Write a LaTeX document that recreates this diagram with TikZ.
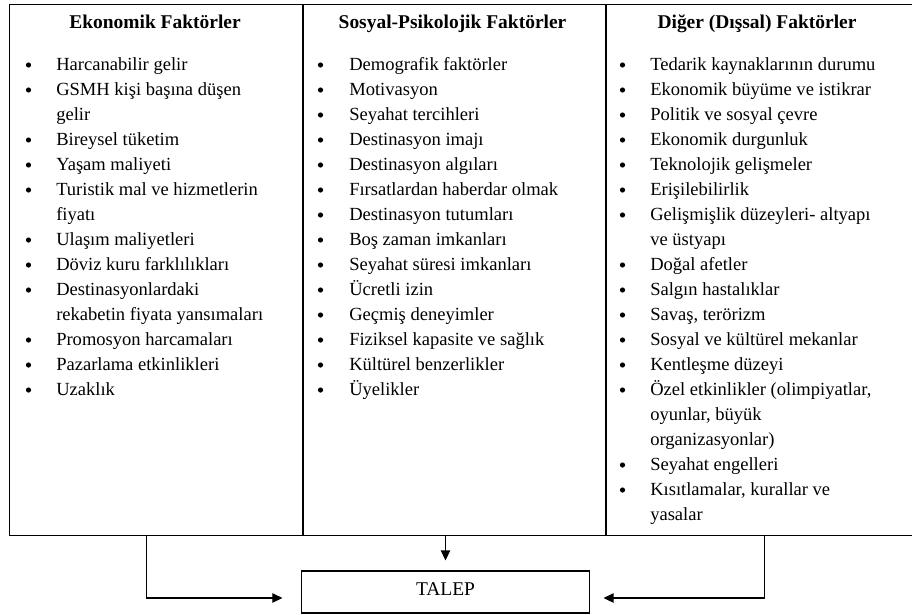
\documentclass[tikz,border=0pt]{standalone}
\usepackage{fontspec}
\setmainfont{Liberation Serif}
\usetikzlibrary{arrows.meta,positioning}

\tikzset{
  colbox/.style={draw,line width=0.8pt,inner sep=0pt,anchor=north west,minimum height=398.6pt},
  header/.style={font=\fontsize{14.6}{17}\selectfont\bfseries,anchor=base,inner sep=0pt},
  itemtext/.style={font=\fontsize{13.9}{17}\selectfont,anchor=base west,inner sep=0pt},
  talepbox/.style={draw,line width=0.8pt,minimum width=216pt,minimum height=31.5pt,
                   text depth=5pt,font=\fontsize{14.6}{17}\selectfont},
  arr/.style={-{Triangle[length=7.5pt,width=7pt]},line width=0.8pt}
}

\begin{document}
\begin{tikzpicture}[x=0.75pt,y=-0.75pt]
  \useasboundingbox (0,0) rectangle (912,614);

  % the three columns
  \node[colbox,minimum width=219.75pt] (eko) at (8.5,3.5) {};
  \node[colbox,minimum width=226.5pt] (sos) at (eko.north east) {};
  \node[colbox,minimum width=232.5pt] (dig) at (sos.north east) {};

  \node[header] (ekoh) at (155,28) {Ekonomik Faktörler};
  \node[header] (sosh) at (452.5,28) {Sosyal-Psikolojik Faktörler};
  \node[header] (digh) at (757,28) {Diğer (Dışsal) Faktörler};

  \foreach \row/\bul/\txt in {0/1/Harcanabilir gelir, 1/1/GSMH kişi başına düşen, 2/0/gelir,
      3/1/Bireysel tüketim, 4/1/Yaşam maliyeti, 5/1/Turistik mal ve hizmetlerin, 6/0/fiyatı,
      7/1/Ulaşım maliyetleri, 8/1/Döviz kuru farklılıkları, 9/1/Destinasyonlardaki,
      10/0/rekabetin fiyata yansımaları, 11/1/Promosyon harcamaları,
      12/1/Pazarlama etkinlikleri, 13/1/Uzaklık}
  {
    \node[itemtext] (e\row) at (56,{70+25*\row}) {\txt};
    \ifnum\bul=1 \fill (28.5,{65+25*\row}) circle[radius=1.95pt]; \fi
  }

  \foreach \row/\txt in {0/Demografik faktörler, 1/Motivasyon, 2/Seyahat tercihleri,
      3/Destinasyon imajı, 4/Destinasyon algıları, 5/Fırsatlardan haberdar olmak,
      6/Destinasyon tutumları, 7/Boş zaman imkanları, 8/Seyahat süresi imkanları,
      9/Ücretli izin, 10/Geçmiş deneyimler, 11/Fiziksel kapasite ve sağlık,
      12/Kültürel benzerlikler, 13/Üyelikler}
  {
    \node[itemtext] (s\row) at (349,{70+25*\row}) {\txt};
    \fill (320.5,{65+25*\row}) circle[radius=1.95pt];
  }

  \foreach \row/\bul/\txt in {0/1/Tedarik kaynaklarının durumu, 1/1/Ekonomik büyüme ve istikrar,
      2/1/Politik ve sosyal çevre, 3/1/Ekonomik durgunluk, 4/1/Teknolojik gelişmeler,
      5/1/Erişilebilirlik, 6/1/Gelişmişlik düzeyleri- altyapı, 7/0/ve üstyapı,
      8/1/Doğal afetler, 9/1/Salgın hastalıklar, 10/1/{Savaş, terörizm},
      11/1/Sosyal ve kültürel mekanlar, 12/1/Kentleşme düzeyi,
      13/1/{Özel etkinlikler (olimpiyatlar,}, 14/0/{oyunlar, büyük}, 15/0/organizasyonlar),
      16/1/Seyahat engelleri, 17/1/{Kısıtlamalar, kurallar ve}, 18/0/yasalar}
  {
    \node[itemtext] (d\row) at (650,{70+25*\row}) {\txt};
    \ifnum\bul=1 \fill (622.5,{65+25*\row}) circle[radius=1.95pt]; \fi
  }

  \node[talepbox] (talep) at (445.5,592) {TALEP};

  \draw[arr,shorten >=13.9pt] ([xshift=-6.6pt]eko.south) |- ([yshift=-4.5pt]talep.west);
  \draw[arr,shorten >=7.5pt] (talep.north |- sos.south) -- (talep.north);
  \draw[arr,shorten >=10.1pt] ([xshift=2.6pt]dig.south) |- ([yshift=-4.5pt]talep.east);

\end{tikzpicture}
\end{document}
